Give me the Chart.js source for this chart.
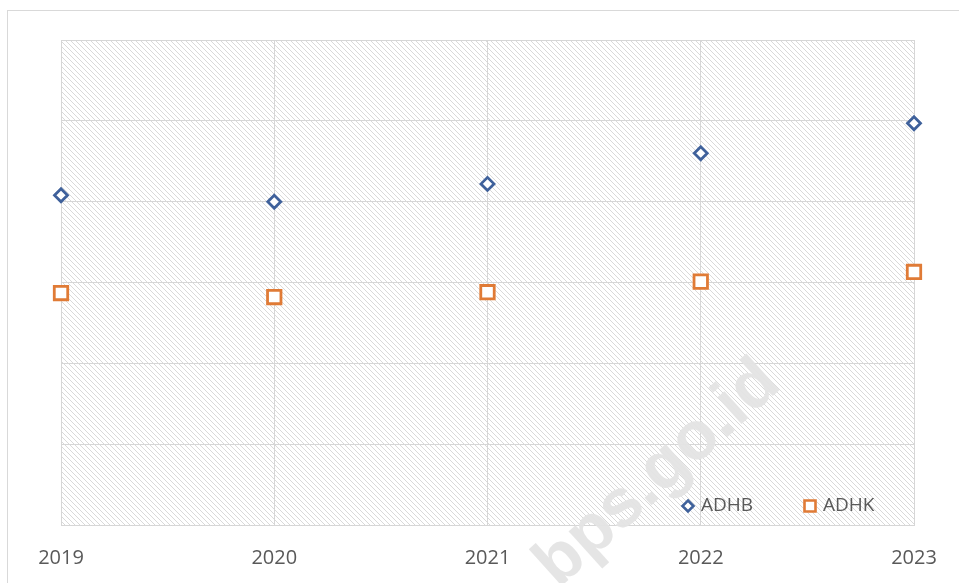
<!DOCTYPE html>
<html>
<head>
<meta charset="utf-8">
<script src="https://cdn.jsdelivr.net/npm/chart.js@4/dist/chart.umd.min.js"></script>
<style>
  html, body { margin: 0; padding: 0; background: #ffffff; }
  #wrap { width: 959px; height: 583px; position: relative; }
</style>
</head>
<body>
<div id="wrap"><canvas id="c" width="959" height="583"></canvas></div>
<script>
// ---- data ----
const years = ['2019', '2020', '2021', '2022', '2023'];
const adhb = [4.08, 4.00, 4.22, 4.60, 4.97];
const adhk = [2.87, 2.82, 2.88, 3.01, 3.13];
const seriesNames = ['ADHB', 'ADHK'];
const yMin = 0, yMax = 6, yStep = 1;
const watermarkText = 'bps.go.id';

const BLUE = '#3f619b';
const ORANGE = '#e07b36';
const GRID = '#d6d6d6';
const TEXT = '#595959';
const FONT = "'Open Sans', 'Liberation Sans', sans-serif";

function makeHatch() {
  const n = 5;
  const t = document.createElement('canvas');
  t.width = n; t.height = n;
  const g = t.getContext('2d');
  g.fillStyle = '#ffffff';
  g.fillRect(0, 0, n, n);
  g.strokeStyle = '#d9d9d9';
  g.lineWidth = 1;
  g.beginPath();
  for (let x = -n; x <= n; x += n) {
    g.moveTo(x, 0);
    g.lineTo(x + n, n);
  }
  g.stroke();
  return g.createPattern(t, 'repeat');
}

const hatchPlugin = {
  id: 'hatch',
  beforeDraw(chart) {
    const { ctx, chartArea: a } = chart;
    ctx.save();
    ctx.strokeStyle = '#d9d9d9';
    ctx.lineWidth = 1;
    ctx.strokeRect(7.5, 10.5, 1000, 1000);
    ctx.fillStyle = makeHatch();
    ctx.fillRect(a.left, a.top, a.right - a.left, a.bottom - a.top);
    ctx.restore();
  }
};

const watermarkPlugin = {
  id: 'watermark',
  afterDatasetsDraw(chart) {
    const { ctx } = chart;
    ctx.save();
    ctx.translate(658, 474);
    ctx.rotate(-42 * Math.PI / 180);
    ctx.font = "bold 68px 'Liberation Sans', Arial, sans-serif";
    ctx.fillStyle = 'rgba(228,228,228,0.95)';
    ctx.textAlign = 'center';
    ctx.textBaseline = 'middle';
    ctx.fillText(watermarkText, 0, 0);
    ctx.restore();
  }
};

const legendPlugin = {
  id: 'customLegend',
  afterDraw(chart) {
    const { ctx } = chart;
    const items = [
      { x: 688, y: 506, style: 'diamond', color: BLUE, label: seriesNames[0] },
      { x: 810, y: 506, style: 'square', color: ORANGE, label: seriesNames[1] }
    ];
    ctx.save();
    items.forEach(it => {
      ctx.lineWidth = 2.6;
      ctx.strokeStyle = it.color;
      ctx.fillStyle = '#ffffff';
      ctx.beginPath();
      if (it.style === 'diamond') {
        const r = 5.5;
        ctx.moveTo(it.x, it.y - r);
        ctx.lineTo(it.x + r, it.y);
        ctx.lineTo(it.x, it.y + r);
        ctx.lineTo(it.x - r, it.y);
        ctx.closePath();
      } else {
        const s = 5.5;
        ctx.rect(it.x - s, it.y - s, 2 * s, 2 * s);
      }
      ctx.fill();
      ctx.stroke();
      ctx.fillStyle = TEXT;
      ctx.font = '19px ' + FONT;
      ctx.textAlign = 'left';
      ctx.textBaseline = 'middle';
      ctx.fillText(it.label, it.x + 13, it.y);
    });
    ctx.restore();
  }
};

new Chart(document.getElementById('c'), {
  type: 'line',
  data: {
    labels: years,
    datasets: [
      {
        label: seriesNames[0],
        data: adhb,
        showLine: false,
        pointStyle: 'rectRot',
        pointRadius: 6.5,
        pointHoverRadius: 6.5,
        pointBorderWidth: 2.8,
        borderColor: BLUE,
        pointBorderColor: BLUE,
        pointBackgroundColor: '#ffffff',
        backgroundColor: '#ffffff'
      },
      {
        label: seriesNames[1],
        data: adhk,
        showLine: false,
        pointStyle: 'rect',
        pointRadius: 9.5,
        pointHoverRadius: 9.5,
        pointBorderWidth: 2.8,
        borderColor: ORANGE,
        pointBorderColor: ORANGE,
        pointBackgroundColor: '#ffffff',
        backgroundColor: '#ffffff'
      }
    ]
  },
  options: {
    responsive: false,
    animation: false,
    devicePixelRatio: 1,
    layout: { padding: { left: 61, right: 45, top: 40, bottom: 0 } },
    plugins: {
      legend: { display: false },
      tooltip: { enabled: false },
      title: { display: false }
    },
    scales: {
      x: {
        type: 'category',
        offset: false,
        grid: { color: GRID, lineWidth: 1, drawTicks: false, tickLength: 0 },
        border: { display: true, color: GRID, width: 1 },
        ticks: {
          color: TEXT,
          font: { family: FONT, size: 20 },
          padding: 21,
          maxRotation: 0,
          autoSkip: false
        },
        afterFit(scale) { scale.height = 58; }
      },
      y: {
        display: true,
        min: yMin,
        max: yMax,
        grid: { color: GRID, lineWidth: 1, drawTicks: false, tickLength: 0 },
        border: { display: false },
        ticks: { display: false, stepSize: yStep },
        afterFit(scale) { scale.width = 0; }
      }
    }
  },
  plugins: [hatchPlugin, watermarkPlugin, legendPlugin]
});
</script>
</body>
</html>
